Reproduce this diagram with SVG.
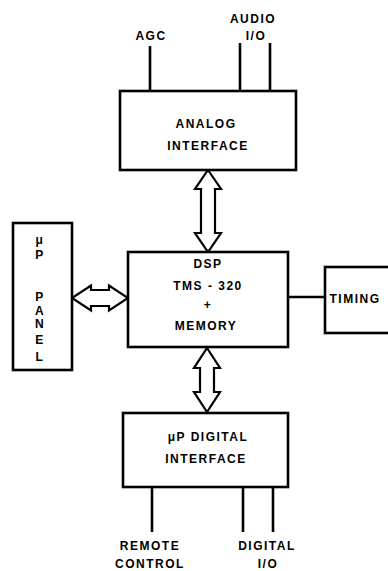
<svg xmlns="http://www.w3.org/2000/svg" width="388" height="571" viewBox="0 0 388 571">
<style>
.box{fill:#fff;stroke:#000;stroke-width:2.6}
.ln{fill:none;stroke:#000;stroke-width:2.6}
.arw{fill:#fff;stroke:#000;stroke-width:2.2;stroke-linejoin:miter}
text{font-family:"Liberation Sans",Arial,sans-serif;font-weight:bold;font-size:12px;letter-spacing:1.5px;fill:#000;text-anchor:middle}
</style>
<rect width="388" height="571" fill="#fff"/>
<g id="connectors">
<line class="ln" x1="150" y1="46" x2="150" y2="91"/>
<line class="ln" x1="240" y1="43" x2="240" y2="91"/>
<line class="ln" x1="270" y1="43" x2="270" y2="91"/>
<line class="ln" x1="288" y1="297" x2="325" y2="297"/>
<line class="ln" x1="152" y1="487" x2="152" y2="532"/>
<line class="ln" x1="243" y1="487" x2="243" y2="532"/>
<line class="ln" x1="273" y1="487" x2="273" y2="532"/>
<polygon class="arw" points="208,170 221,189 215,189 215,233 221,233 208,252 195,233 201,233 201,189 195,189"/>
<polygon class="arw" points="207,348 220,368 214,368 214,392 220,392 207,412 194,392 200,392 200,368 194,368"/>
<polygon class="arw" points="72,298 91,285.5 91,290 109,290 109,285.5 128,298 109,310.5 109,306 91,306 91,310.5"/>
</g>
<g id="agc-label"><text x="151" y="40" letter-spacing="1">AGC</text></g>
<g id="audio-label"><text x="253" y="23" letter-spacing="1">AUDIO</text><text x="256" y="40">I/O</text></g>
<g id="analog"><rect class="box" x="120" y="91" width="176" height="79"/><text x="206" y="128">ANALOG</text><text x="208" y="150">INTERFACE</text></g>
<g id="dsp"><rect class="box" x="128" y="252" width="160" height="95"/><text x="208" y="268">DSP</text><text x="208" y="290" letter-spacing="2.5">TMS - 320</text><text x="208" y="309">+</text><text x="206" y="330" letter-spacing="2">MEMORY</text></g>
<g id="panel"><rect class="box" x="13" y="223" width="59" height="147"/>
<text x="40" y="244">μ</text><text x="40" y="259">P</text><text x="40" y="301">P</text><text x="40" y="315">A</text><text x="40" y="328">N</text><text x="40" y="344">E</text><text x="40" y="361">L</text></g>
<g id="timing"><rect class="box" x="325" y="267" width="70" height="66"/><text x="355" y="303" letter-spacing="1">TIMING</text></g>
<g id="digital"><rect class="box" x="123" y="413" width="165" height="74"/><text x="208" y="441" letter-spacing="2">μP DIGITAL</text><text x="206" y="463">INTERFACE</text></g>
<g id="remote-label"><text x="150" y="550" letter-spacing="2">REMOTE</text><text x="150" y="568" letter-spacing="1.5">CONTROL</text></g>
<g id="digital-label"><text x="267" y="550">DIGITAL</text><text x="268" y="568">I/O</text></g>
</svg>
